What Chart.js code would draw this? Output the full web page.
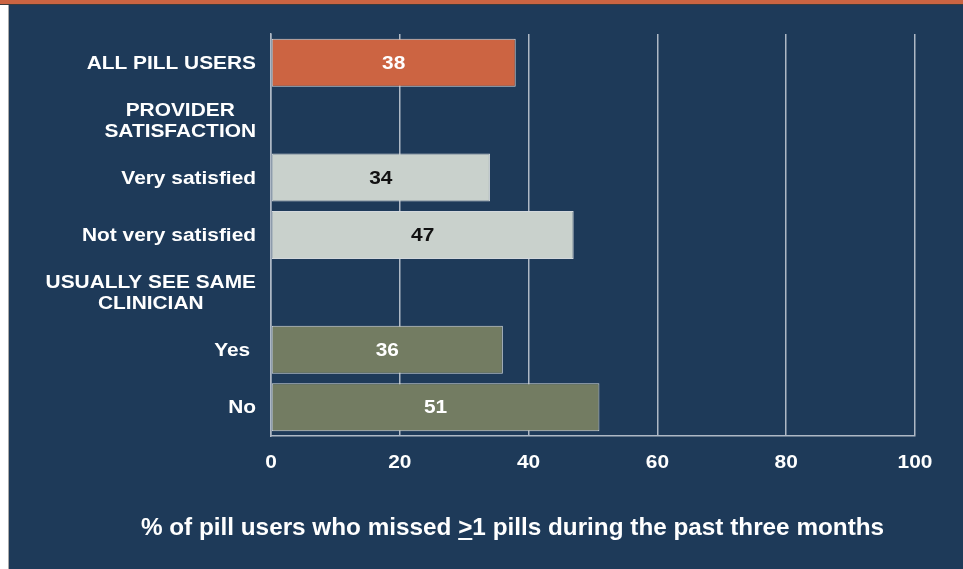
<!DOCTYPE html>
<html>
<head>
<meta charset="utf-8">
<script src="https://cdn.jsdelivr.net/npm/chart.js@4"></script>
<style>
  html, body { margin:0; padding:0; }
  body { width:963px; height:569px; background:#1e3a59; position:relative; overflow:hidden; }
  .edge { position:absolute; left:0; top:0; width:8px; height:569px; background:#ffffff; border-right:1px solid #a9a9a9; }
  .band { position:absolute; left:0; top:0; width:963px; height:4px; background:#cb6442; border-bottom:1px solid #3b3b3b; }
  #myChart { position:absolute; left:0; top:0; }
</style>
</head>
<body>
<div class="edge"></div>
<div class="band"></div>
<canvas id="myChart" width="963" height="569"></canvas>
<script>
// 행 이름 (줄바꿈 있는 건 소제목)
const categories = ['ALL PILL USERS', ['PROVIDER', 'SATISFACTION'], 'Very satisfied', 'Not very satisfied', ['USUALLY SEE SAME', 'CLINICIAN'], 'Yes ', 'No'];
// 1개 이상 빠뜨린 비율(%) - 소제목 행은 null
const missedPct = [38, null, 34, 47, null, 36, 51];
const barColors = ['#cc6442', null, '#c9d1cc', '#c9d1cc', null, '#737c62', '#737c62'];
const valueColors = ['#ffffff', null, '#111111', '#111111', null, '#ffffff', '#ffffff'];
const xTicks = [0, 20, 40, 60, 80, 100];
const xTitle = '% of pill users who missed >1 pills during the past three months';

const FONT = 'bold 18px "Liberation Sans", Arial, sans-serif';
const SX = 1.16; // 글자 가로로 약간 늘림

function stretchText(ctx, txt, x, y, align){
	ctx.save();
	ctx.translate(x, y + 1);
	ctx.scale(SX, 1);
	ctx.textAlign = align;
	ctx.fillText(txt, 0, 0);
	ctx.restore();
}

const textPlugin = {
	id : 'textPlugin',
	afterDraw(chart){
		const ctx = chart.ctx;
		const xs = chart.scales.x, ys = chart.scales.y;
		const labelRight = chart.chartArea.left - 15;
		ctx.save();
		ctx.font = FONT;
		ctx.textBaseline = 'middle';
		ctx.fillStyle = '#ffffff';

		// 왼쪽 항목명
		categories.forEach((c, i) => {
			const y = ys.getPixelForValue(i);
			if (Array.isArray(c)) {
				const w = Math.max(...c.map(t => ctx.measureText(t).width)) * SX;
				const cx = labelRight - w / 2;
				c.forEach((t, k) => stretchText(ctx, t, cx, y - 10.5 + k * 21, 'center'));
			} else {
				stretchText(ctx, c, labelRight, y, 'right');
			}
		});

		// 막대 안 값
		chart.getDatasetMeta(0).data.forEach((bar, i) => {
			if (missedPct[i] == null) return;
			ctx.fillStyle = valueColors[i];
			stretchText(ctx, String(missedPct[i]), (bar.x + bar.base) / 2, bar.y, 'center');
		});

		// x축 눈금
		ctx.fillStyle = '#ffffff';
		xTicks.forEach(v => stretchText(ctx, String(v), xs.getPixelForValue(v), 462, 'center'));

		// 아래 제목 ( ">" 밑줄 )
		ctx.font = 'bold 24.3px "Liberation Sans", Arial, sans-serif';
		ctx.textAlign = 'left';
		const tw = ctx.measureText(xTitle).width;
		const tx = 512.5 - tw / 2, ty = 528;
		ctx.fillText(xTitle, tx, ty);
		const gi = xTitle.indexOf('>');
		const gx = tx + ctx.measureText(xTitle.slice(0, gi)).width;
		const gw = ctx.measureText('>').width;
		ctx.fillRect(gx, ty + 10, gw, 2);
		ctx.restore();
	}
};

new Chart(document.getElementById('myChart'), {
	type : 'bar',
	data : {
		labels : categories,
		datasets : [{
			data : missedPct,
			backgroundColor : barColors,
			borderColor : '#d3d8dc',
			borderWidth : 1,
			borderSkipped : false,
			barPercentage : 0.836,
			categoryPercentage : 1
		}]
	},
	options : {
		indexAxis : 'y',
		responsive : false,
		animation : false,
		layout : { padding : { top : 34, right : 48, bottom : 0, left : 0 } },
		plugins : { legend : { display : false }, tooltip : { enabled : false } },
		scales : {
			x : {
				min : 0, max : 100,
				afterBuildTicks : (s) => { s.ticks = xTicks.map(v => ({ value : v })) },
				afterFit : (s) => { s.height = 133 },
				ticks : { display : false },
				grid : { color : '#aeb8c5', lineWidth : 1.5, drawTicks : false },
				border : { color : '#aeb8c5', width : 1.5 }
			},
			y : {
				afterFit : (s) => { s.width = 271 },
				ticks : { display : false },
				grid : { display : false },
				border : { color : '#aeb8c5', width : 1.5 }
			}
		}
	},
	plugins : [textPlugin]
});
</script>
</body>
</html>
